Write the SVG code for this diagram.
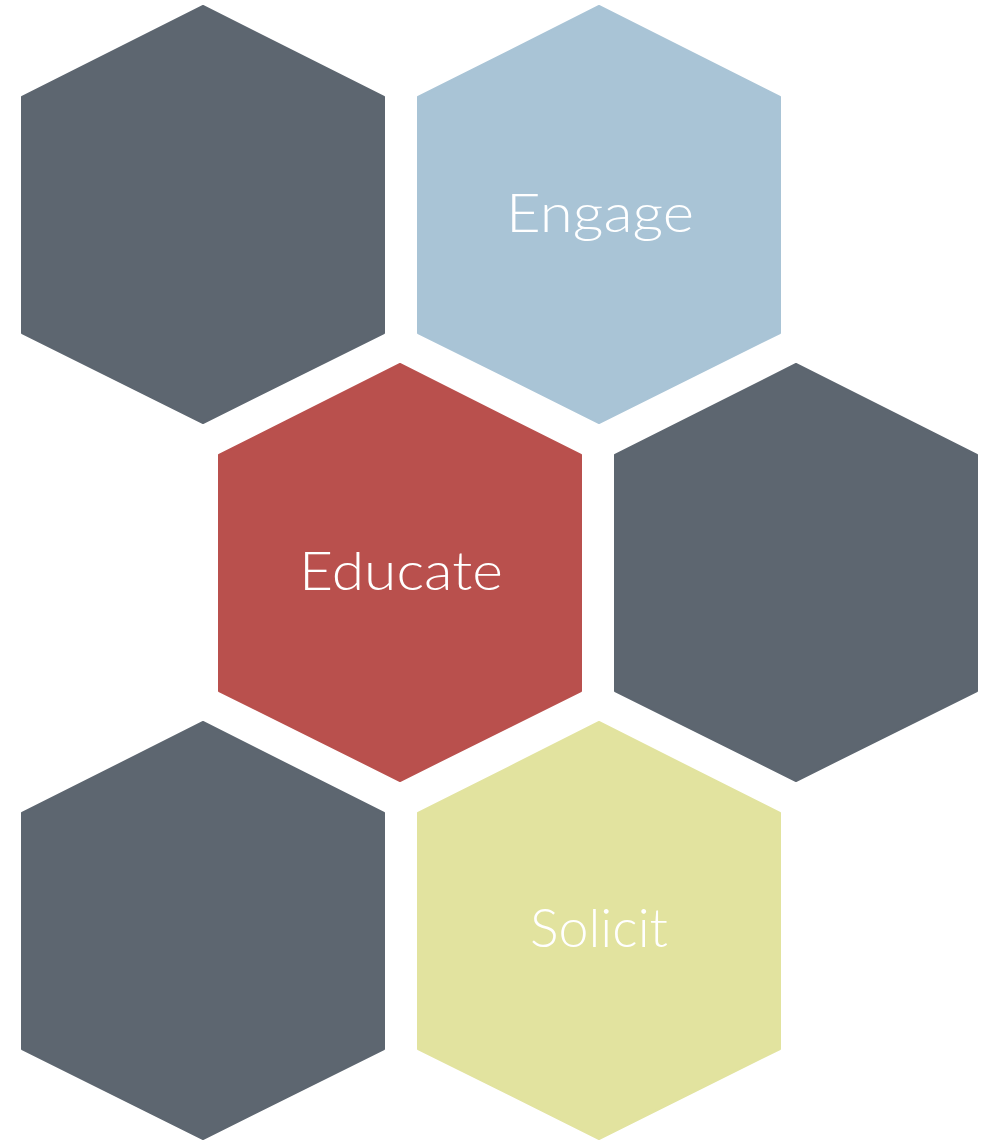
<svg xmlns="http://www.w3.org/2000/svg" width="981" height="1140" viewBox="0 0 981 1140">
<style>
.hex{stroke-linejoin:round;stroke-width:2}
.dark{fill:#5D6670;stroke:#5D6670}
.blue{fill:#A9C4D6;stroke:#A9C4D6}
.red{fill:#B9504D;stroke:#B9504D}
.yellow{fill:#E2E39F;stroke:#E2E39F}
.lbl{font-family:"Lato","Noto Sans",sans-serif;font-weight:300;font-size:53px;fill:#FFFFFF;text-anchor:middle}
</style>
<defs>
<polygon id="hx" points="0,0 181,91 181,327 0,417 -181,327 -181,91"/>
</defs>
<rect width="981" height="1140" fill="#FFFFFF"/>
<g id="hex1"><use href="#hx" x="203" y="6" class="hex dark"/></g>
<g id="hex2"><use href="#hx" x="599" y="6" class="hex blue"/><text class="lbl" x="600" y="232" textLength="188" lengthAdjust="spacingAndGlyphs">Engage</text></g>
<g id="hex3"><use href="#hx" x="400" y="364" class="hex red"/><text class="lbl" x="401" y="590" textLength="204" lengthAdjust="spacingAndGlyphs">Educate</text></g>
<g id="hex4"><use href="#hx" x="796" y="364" class="hex dark"/></g>
<g id="hex5"><use href="#hx" x="203" y="722" class="hex dark"/></g>
<g id="hex6"><use href="#hx" x="599" y="722" class="hex yellow"/><text class="lbl" x="599" y="947" textLength="138" lengthAdjust="spacingAndGlyphs">Solicit</text></g>
<g id="connectors"/>
</svg>
